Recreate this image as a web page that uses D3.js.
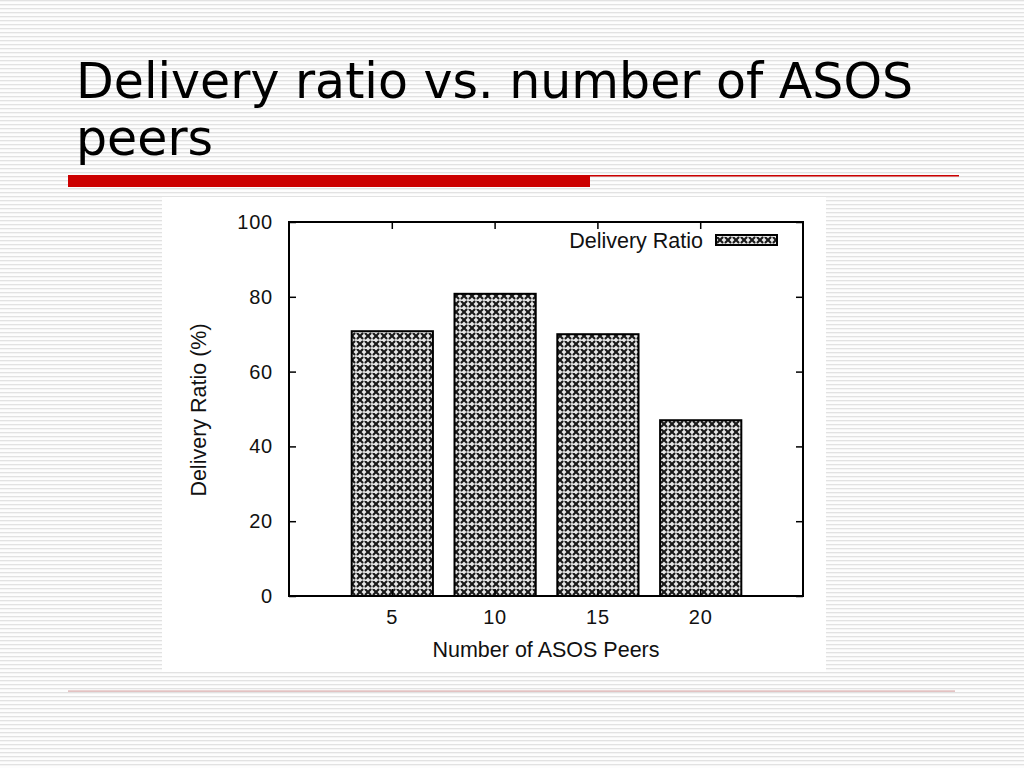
<!DOCTYPE html>
<html><head><meta charset="utf-8">
<script src="https://cdn.jsdelivr.net/npm/d3@7"></script>
<style>body{margin:0;background:#fff;}svg{display:block;}</style>
</head><body>
<script>
const titleLines = ["Delivery ratio vs. number of ASOS", "peers"];
const categories = [5, 10, 15, 20];
const deliveryRatio = [70.8, 80.8, 70.0, 47.0];
const yTicks = [0, 20, 40, 60, 80, 100];
const seriesName = "Delivery Ratio";
const xLabel = "Number of ASOS Peers";
const yLabel = "Delivery Ratio (%)";

const W = 1024, H = 768;
const svg = d3.select("body").append("svg").attr("width", W).attr("height", H);
const defs = svg.append("defs");

// striped slide background
const bg = defs.append("pattern").attr("id", "stripes").attr("patternUnits", "userSpaceOnUse")
  .attr("width", 8).attr("height", 4);
bg.append("rect").attr("width", 8).attr("height", 4).attr("fill", "#fdfdfd");
bg.append("rect").attr("y", 0).attr("width", 8).attr("height", 1.3).attr("fill", "#e2e2e2");
svg.append("rect").attr("width", W).attr("height", H).attr("fill", "url(#stripes)");

// hatch pattern for bars
const hp = defs.append("pattern").attr("id", "hatch").attr("patternUnits", "userSpaceOnUse")
  .attr("width", 8).attr("height", 8);
hp.append("rect").attr("width", 8).attr("height", 8).attr("fill", "#e8e8e8");
hp.append("path").attr("d", "M0,0L8,8M8,0L0,8M-2,6L2,10M6,-2L10,2M-2,2L2,-2M6,10L10,6")
  .attr("stroke", "#1a1a1a").attr("stroke-width", 2.2);
hp.append("path").attr("d", "M4,2.2V5.8M2.2,4H5.8").attr("stroke", "#fff").attr("stroke-width", 1.2);

// title
const title = svg.append("text").attr("x", 76).attr("y", 98)
  .attr("font-family", "DejaVu Sans").attr("font-size", 49).attr("fill", "#000");
titleLines.forEach((t, i) => title.append("tspan").attr("x", 76).attr("dy", i ? 57 : 0).text(t));

// red rules
svg.append("rect").attr("x", 68).attr("y", 175).attr("width", 522).attr("height", 12).attr("fill", "#cc0000");
svg.append("rect").attr("x", 590).attr("y", 175).attr("width", 369).attr("height", 1.5).attr("fill", "#cc0000");
svg.append("rect").attr("x", 68).attr("y", 690.5).attr("width", 887).attr("height", 1.2).attr("fill", "#d8a8a8");

// chart image box
svg.append("rect").attr("x", 162).attr("y", 197).attr("width", 664).attr("height", 475).attr("fill", "#fff");

const m = {l: 289, r: 803, t: 222, b: 596};
const x = d3.scaleLinear().domain([0, 25]).range([m.l, m.r]);
const y = d3.scaleLinear().domain([0, 100]).range([m.b, m.t]);
const font = "Liberation Sans, Arial, sans-serif";

const g = svg.append("g");
// bars
g.selectAll("rect.bar").data(categories).enter().append("rect")
  .attr("x", (d) => x(d - 1.95)).attr("width", x(3.95) - x(0))
  .attr("y", (d, i) => y(deliveryRatio[i])).attr("height", (d, i) => y(0) - y(deliveryRatio[i]))
  .attr("fill", "url(#hatch)").attr("stroke", "#000").attr("stroke-width", 2);

// axes with mirrored inward ticks
const tickLen = 7;
g.append("g").attr("transform", `translate(0,${m.b})`)
  .call(d3.axisBottom(x).tickValues(categories).tickSize(-tickLen).tickPadding(14))
  .call(s => { s.select(".domain").remove(); });
g.append("g").attr("transform", `translate(0,${m.t})`)
  .call(d3.axisTop(x).tickValues(categories).tickSize(-tickLen).tickFormat(""))
  .call(s => s.select(".domain").remove());
g.append("g").attr("transform", `translate(${m.l},0)`)
  .call(d3.axisLeft(y).tickValues(yTicks).tickSize(-tickLen).tickPadding(16))
  .call(s => s.select(".domain").remove());
g.append("g").attr("transform", `translate(${m.r},0)`)
  .call(d3.axisRight(y).tickValues(yTicks).tickSize(-tickLen).tickFormat(""))
  .call(s => s.select(".domain").remove());
g.selectAll(".tick line").attr("stroke", "#000").attr("stroke-width", 1.5);
g.selectAll(".tick text").attr("font-family", font).attr("font-size", 20).attr("fill", "#111")
  .attr("letter-spacing", 0.8);

// frame
g.append("rect").attr("x", m.l).attr("y", m.t).attr("width", m.r - m.l).attr("height", m.b - m.t)
  .attr("fill", "none").attr("stroke", "#000").attr("stroke-width", 2);

// labels
svg.append("text").attr("x", 546).attr("y", 657).attr("text-anchor", "middle")
  .attr("font-family", font).attr("font-size", 21.5).attr("fill", "#111").text(xLabel);
svg.append("text").attr("transform", `translate(206,410) rotate(-90)`).attr("text-anchor", "middle")
  .attr("font-family", font).attr("font-size", 21.5).attr("fill", "#111").text(yLabel);

// legend
svg.append("text").attr("x", 703).attr("y", 248).attr("text-anchor", "end")
  .attr("font-family", font).attr("font-size", 21.5).attr("fill", "#111").text(seriesName);
svg.append("rect").attr("x", 716).attr("y", 235).attr("width", 61).attr("height", 10)
  .attr("fill", "url(#hatch)").attr("stroke", "#000").attr("stroke-width", 2);
</script>
</body></html>
